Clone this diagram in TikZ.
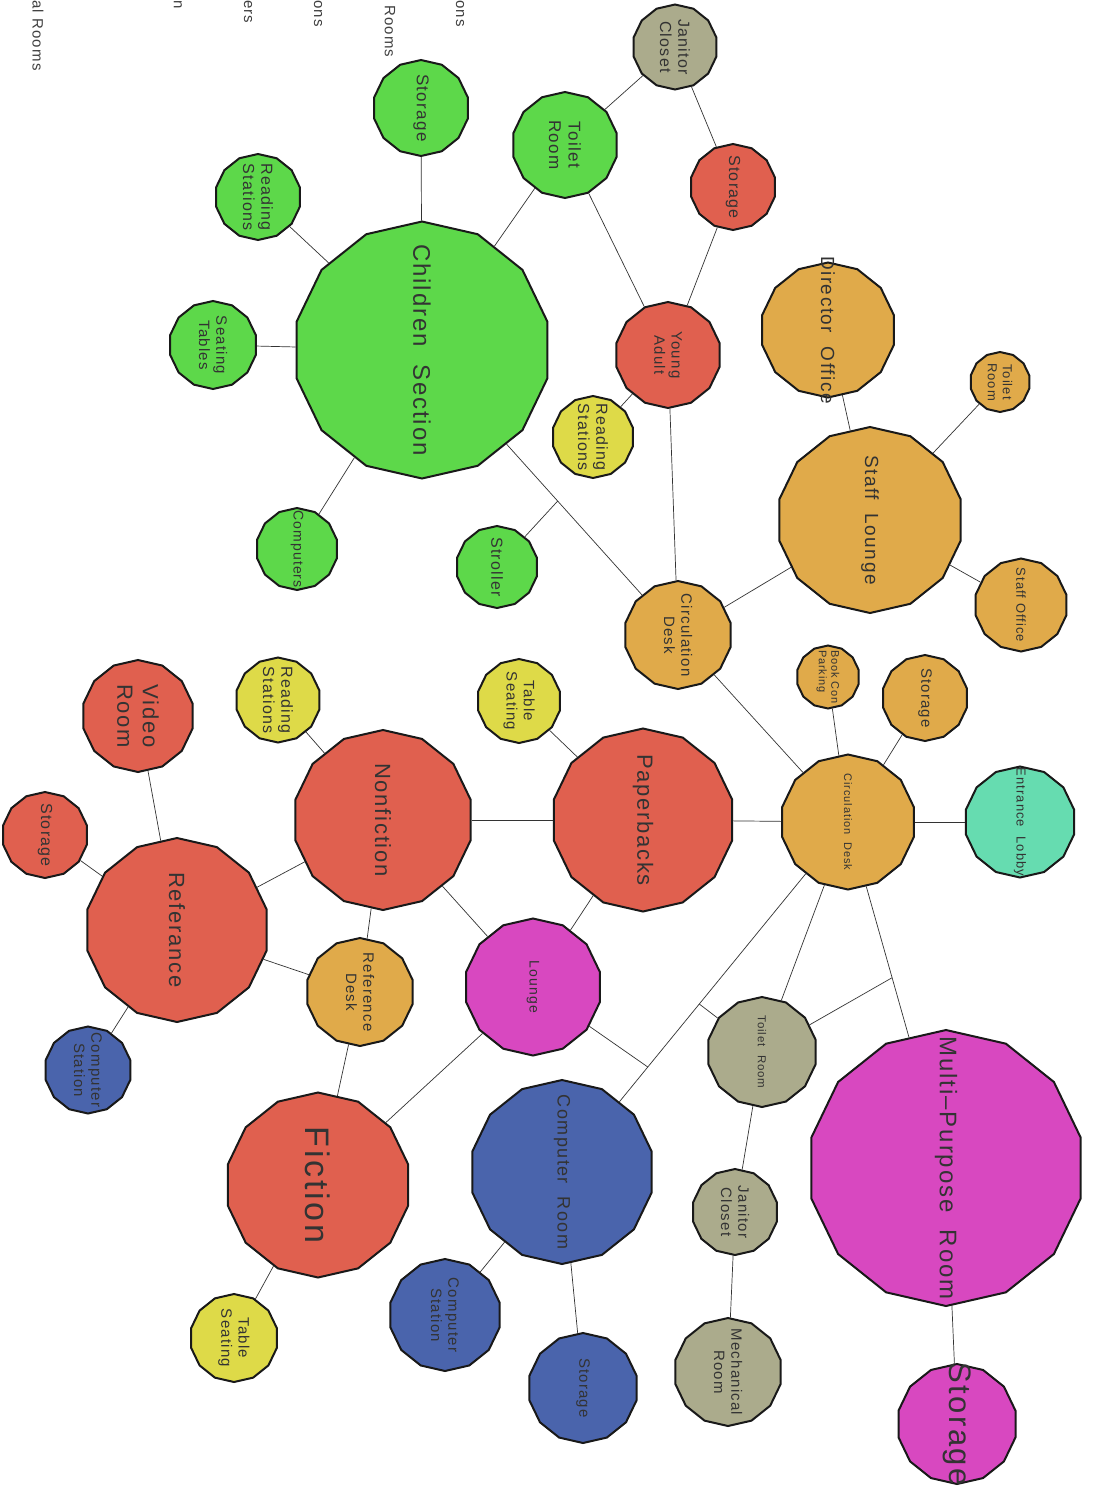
\documentclass[tikz,border=0pt]{standalone}
\usepackage{fontspec}
\setmainfont{Liberation Sans}[LetterSpace=8]
\usetikzlibrary{shapes.geometric,calc}

\definecolor{kidgreen}{HTML}{5DD84A}
\definecolor{bookred}{HTML}{E0604F}
\definecolor{deskorange}{HTML}{E0AA4A}
\definecolor{seatyellow}{HTML}{DEDA48}
\definecolor{utilkhaki}{HTML}{ABAB8C}
\definecolor{techblue}{HTML}{4A64AC}
\definecolor{eventmagenta}{HTML}{D848C0}
\definecolor{lobbyteal}{HTML}{66DCB0}

\begin{document}
\begin{tikzpicture}[
    x=1pt, y=-1pt,
    room/.style={draw=black!90, line width=2pt, regular polygon, regular polygon sides=14, shape border rotate=12.857, inner sep=0pt},
    lab/.style={rotate=-90, align=center, inner sep=0pt, text=black!80, font=\fontsize{#1}{\fpeval{1.15*#1}}\selectfont},
    key/.style={rotate=-90, anchor=west, inner sep=0pt, text=black!75, font=\fontsize{15}{18}\selectfont},
    link/.style={draw=black!80, line width=0.7pt}
]
\fill[white] (0,0) rectangle (1094,1500);
\useasboundingbox (0,0) rectangle (1094,1500);
\clip (0,0) rectangle (1094,1500);

% legend, cut off at the page edge
\node[key] (keya) at (38,0) {al Rooms};
\node[key] (keyb) at (178,0) {n};
\node[key] (keyc) at (248,0) {ers};
\node[key] (keyd) at (318,0) {ons};
\node[key] (keye) at (390,5) {Rooms};
\node[key] (keyf) at (460,0) {ons};

% children wing
\node[room, fill=kidgreen, minimum size=257pt, label={[lab=24]center:Children\ \ Section}] (kids) at (422,350) {};
\node[room, fill=kidgreen, minimum size=96pt, label={[lab=17]center:Storage}] (kidstore) at (421,108) {};
\node[room, fill=kidgreen, minimum size=86pt, label={[lab=16]center:{Reading\\Stations}}] (kidread) at (258,197) {};
\node[room, fill=kidgreen, minimum size=88pt, label={[lab=15]center:{Seating\\Tables}}] (kidseat) at (213,345) {};
\node[room, fill=kidgreen, minimum size=82pt, label={[lab=14]center:Computers}] (kidcomp) at (297,549) {};
\node[room, fill=kidgreen, minimum size=82pt, label={[lab=16]center:Stroller}] (stroller) at (497,567) {};
\node[room, fill=kidgreen, minimum size=106pt, label={[lab=17]center:{Toilet\\Room}}] (kidtoilet) at (565,145) {};
\node[room, fill=utilkhaki, minimum size=85pt, label={[lab=16]center:{Janitor\\Closet}}] (janitor) at (675,47) {};
\node[room, fill=bookred, minimum size=86pt, label={[lab=16]center:Storage}] (yastore) at (733,187) {};
\node[room, fill=bookred, minimum size=106pt, label={[lab=15]center:{Young\\Adult}}] (young) at (668,355) {};
\node[room, fill=seatyellow, minimum size=82pt, label={[lab=16]center:{Reading\\Stations}}] (yaread) at (593,437) {};

% staff wing
\node[room, fill=deskorange, minimum size=135pt, label={[lab=19]center:Director\ \ Office}] (director) at (828,330) {};
\node[room, fill=deskorange, minimum size=60pt, label={[lab=13]center:{Toilet\\Room}}] (stafftoilet) at (1000,382) {};
\node[room, fill=deskorange, minimum size=186pt, label={[lab=19]center:Staff\ \ Lounge}] (stafflounge) at (870,520) {};
\node[room, fill=deskorange, minimum size=93pt, label={[lab=13]center:Staff\ Office}] (staffoffice) at (1021,605) {};
\node[room, fill=deskorange, minimum size=108pt, label={[lab=15]center:{Circulation\\Desk}}] (circtop) at (678,635) {};
\node[room, fill=deskorange, minimum size=63pt, label={[lab=11, align=left]center:{Book Con\\Parking}}] (bookpark) at (828,677) {};
\node[room, fill=deskorange, minimum size=86pt, label={[lab=15]center:Storage}] (circstore) at (925,698) {};
\node[room, fill=deskorange, minimum size=135pt, label={[lab=11]center:Circulation\ \ Desk}] (circ) at (848,822) {};
\node[room, fill=lobbyteal, minimum size=111pt, label={[lab=13]center:Entrance\ \ Lobby}] (lobby) at (1020,822) {};

% collection
\node[room, fill=seatyellow, minimum size=84pt, label={[lab=15]center:{Table\\Seating}}] (ptable) at (519,701) {};
\node[room, fill=bookred, minimum size=183pt, label={[lab=22]center:Paperbacks}] (paper) at (643,820) {};
\node[room, fill=seatyellow, minimum size=85pt, label={[lab=16]center:{Reading\\Stations}}] (nfread) at (278,700) {};
\node[room, fill=bookred, minimum size=180pt, label={[lab=22]center:Nonfiction}] (nonfic) at (383,820) {};
\node[room, fill=bookred, minimum size=112pt, label={[lab=22]center:{Video\\Room}}] (video) at (138,716) {};
\node[room, fill=bookred, minimum size=86pt, label={[lab=16]center:Storage}] (refstore) at (45,835) {};
\node[room, fill=bookred, minimum size=184pt, label={[lab=22]center:Referance}] (ref) at (177,930) {};
\node[room, fill=techblue, minimum size=87pt, label={[lab=15]center:{Computer\\Station}}] (refcomp) at (88,1070) {};
\node[room, fill=deskorange, minimum size=108pt, label={[lab=15]center:{Reference\\Desk}}] (refdesk) at (360,992) {};
\node[room, fill=eventmagenta, minimum size=137pt, label={[lab=14]center:Lounge}] (lounge) at (533,987) {};
\node[room, fill=bookred, minimum size=185pt, label={[lab=34]center:Fiction}] (fiction) at (318,1185) {};
\node[room, fill=seatyellow, minimum size=88pt, label={[lab=15]center:{Table\\Seating}}] (ftable) at (234,1338) {};

% services
\node[room, fill=utilkhaki, minimum size=110pt, label={[lab=11.5]center:Toilet\ \ Room}] (toilet) at (762,1052) {};
\node[room, fill=eventmagenta, minimum size=276pt, label={[lab=24]center:Multi--Purpose\ \ Room}] (multi) at (946,1168) {};
\node[room, fill=eventmagenta, minimum size=120pt, label={[lab=31]center:Storage}] (multistore) at (957,1424) {};
\node[room, fill=utilkhaki, minimum size=86pt, label={[lab=15]center:{Janitor\\Closet}}] (janitor2) at (735,1212) {};
\node[room, fill=utilkhaki, minimum size=108pt, label={[lab=15]center:{Mechanical\\Room}}] (mech) at (728,1372) {};
\node[room, fill=techblue, minimum size=184pt, label={[lab=18]center:Computer\ \ Room}] (comproom) at (562,1172) {};
\node[room, fill=techblue, minimum size=110pt, label={[lab=15]center:Storage}] (compstore) at (583,1388) {};
\node[room, fill=techblue, minimum size=112pt, label={[lab=15]center:{Computer\\Station}}] (compstat) at (445,1315) {};

% junctions on shared lines
\coordinate (jstroll) at ($(kids)!0.53!(circtop)$);
\coordinate (jtoilet) at ($(circ)!0.52!(comproom)$);
\coordinate (jlounge) at ($(circ)!0.70!(comproom)$);
\coordinate (jmulti) at ($(circ)!0.45!(multi)$);

\foreach \a/\b in {kids/kidstore, kids/kidread, kids/kidseat, kids/kidcomp, kids/kidtoilet, kids/circtop,
    kidtoilet/janitor, janitor/yastore, kidtoilet/young, yastore/young, young/yaread, young/circtop,
    director/stafflounge, stafflounge/stafftoilet, stafflounge/staffoffice, stafflounge/circtop,
    circtop/circ, bookpark/circ, circstore/circ, circ/lobby, circ/paper, circ/comproom, circ/toilet, circ/multi,
    paper/ptable, paper/nonfic, paper/lounge, nonfic/nfread, nonfic/ref, nonfic/lounge, nonfic/refdesk,
    ref/video, ref/refstore, ref/refcomp, ref/refdesk, refdesk/fiction, fiction/lounge, fiction/ftable,
    comproom/compstat, comproom/compstore, multi/multistore, toilet/janitor2, janitor2/mech,
    stroller/jstroll, lounge/jlounge, toilet/jtoilet, toilet/jmulti}
    \draw[link] (\a) -- (\b);
\end{tikzpicture}
\end{document}
